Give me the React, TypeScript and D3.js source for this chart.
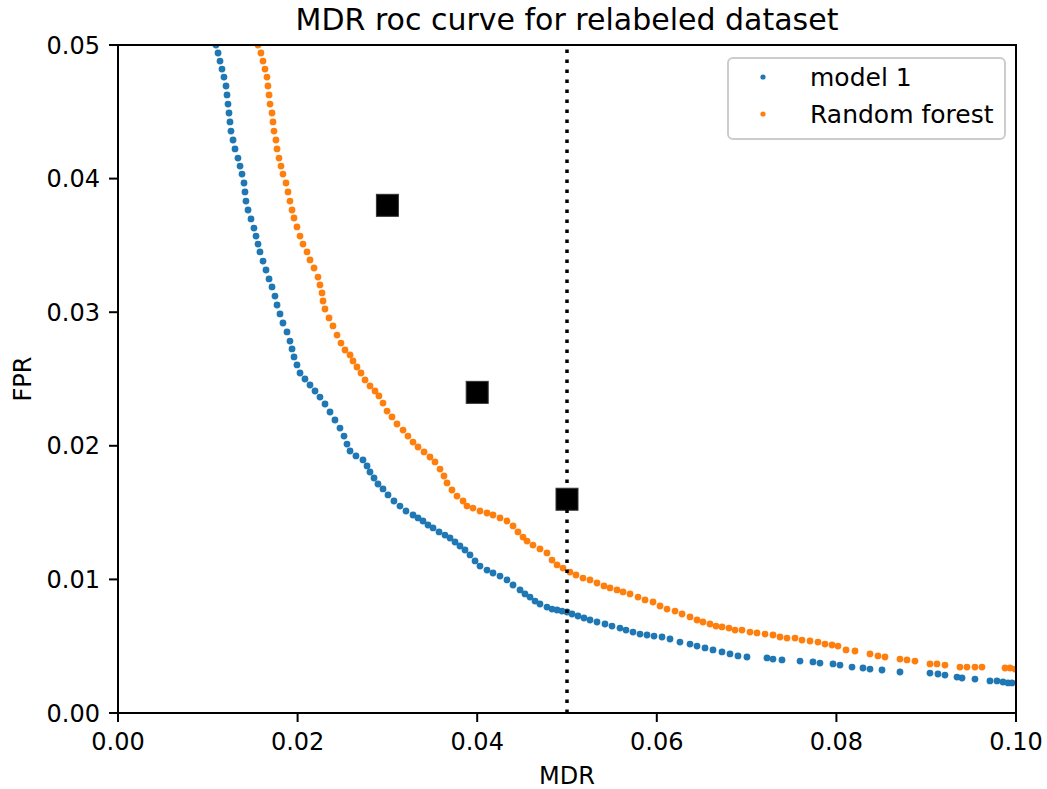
import * as d3 from "d3";
import React from "react";

// MDR / FPR pairs
const model1Points: [number, number][] = [
  [0.01091, 0.05], [0.01114, 0.0494], [0.01136, 0.0488], [0.01158, 0.0482], [0.0118, 0.0476],
  [0.01203, 0.04693], [0.01214, 0.04626], [0.01225, 0.04558], [0.01236, 0.04491], [0.01247, 0.04424],
  [0.01258, 0.04356], [0.01281, 0.04289], [0.01303, 0.04222], [0.01336, 0.04154], [0.01359, 0.04094],
  [0.01381, 0.04034], [0.01403, 0.03967], [0.01414, 0.039], [0.01425, 0.03832], [0.01448, 0.03765],
  [0.01481, 0.03698], [0.01514, 0.0363], [0.01537, 0.0357], [0.01559, 0.0351], [0.01581, 0.03451],
  [0.01615, 0.03383], [0.01648, 0.03316], [0.01682, 0.03249], [0.01715, 0.03189], [0.01748, 0.03121],
  [0.01771, 0.03054], [0.01804, 0.02987], [0.01837, 0.02919], [0.01882, 0.02852], [0.01915, 0.02784],
  [0.01938, 0.02725], [0.0196, 0.02665], [0.01993, 0.02605], [0.02027, 0.02545], [0.02082, 0.025],
  [0.02138, 0.02455], [0.02194, 0.0241], [0.02249, 0.02365], [0.02305, 0.02313], [0.02361, 0.02253],
  [0.02416, 0.02193], [0.02472, 0.02133], [0.02517, 0.02073], [0.0255, 0.02013], [0.02584, 0.01961],
  [0.0265, 0.01924], [0.02728, 0.01894], [0.02773, 0.01849], [0.02806, 0.01804], [0.02851, 0.01759],
  [0.02895, 0.01714], [0.02951, 0.01677], [0.03007, 0.01632], [0.03073, 0.01587], [0.0314, 0.01549],
  [0.03207, 0.01512], [0.03285, 0.01482], [0.03341, 0.0146], [0.03396, 0.01437], [0.03452, 0.01407],
  [0.03508, 0.01385], [0.03575, 0.01355], [0.03641, 0.01332], [0.03697, 0.0131], [0.03753, 0.0128],
  [0.03808, 0.0125], [0.03864, 0.0122], [0.0392, 0.01183], [0.03976, 0.01138], [0.04031, 0.011],
  [0.04109, 0.0107], [0.04176, 0.01048], [0.04254, 0.01025], [0.04332, 0.00996], [0.04399, 0.00958],
  [0.04477, 0.00921], [0.04532, 0.00891], [0.04588, 0.00868], [0.04644, 0.00838], [0.04699, 0.00816],
  [0.04777, 0.00793], [0.04833, 0.00778], [0.04889, 0.00771], [0.04944, 0.00763], [0.05, 0.00756],
  [0.05056, 0.00741], [0.05122, 0.00726], [0.05189, 0.00711], [0.05256, 0.00696], [0.05334, 0.00681],
  [0.05423, 0.00666], [0.05501, 0.00651], [0.0559, 0.00636], [0.05657, 0.00621], [0.05735, 0.00606],
  [0.05813, 0.00591], [0.05891, 0.00584], [0.05969, 0.00576], [0.06058, 0.00569], [0.06147, 0.00554],
  [0.06258, 0.00531], [0.0637, 0.00516], [0.06448, 0.00501], [0.06537, 0.00487], [0.06626, 0.00472],
  [0.06726, 0.00457], [0.06815, 0.00442], [0.06904, 0.00427], [0.07004, 0.00419], [0.07227, 0.00412],
  [0.07294, 0.00404], [0.07394, 0.00397], [0.07595, 0.00389], [0.07739, 0.00382], [0.07817, 0.00374],
  [0.07962, 0.00367], [0.0804, 0.00359], [0.08174, 0.00344], [0.08296, 0.00337], [0.08374, 0.00329],
  [0.08508, 0.00322], [0.08708, 0.00307], [0.09042, 0.00299], [0.09131, 0.00292], [0.09209, 0.00284],
  [0.09343, 0.00269], [0.09399, 0.00262], [0.09543, 0.00254], [0.0971, 0.0024], [0.09788, 0.0024],
  [0.09855, 0.00232], [0.09911, 0.00225], [0.09955, 0.00225],
];

const forestPoints: [number, number][] = [
  [0.01559, 0.05], [0.01592, 0.0494], [0.01615, 0.0488], [0.01637, 0.0482], [0.01659, 0.0476],
  [0.0167, 0.04693], [0.01682, 0.04626], [0.01693, 0.04558], [0.01715, 0.04491], [0.01726, 0.04424],
  [0.01737, 0.04356], [0.01759, 0.04289], [0.01771, 0.04222], [0.01793, 0.04154], [0.01815, 0.04094],
  [0.01837, 0.04034], [0.01871, 0.03967], [0.01893, 0.039], [0.01915, 0.03832], [0.01938, 0.03765],
  [0.0196, 0.03705], [0.01993, 0.03638], [0.02027, 0.0357], [0.0206, 0.0351], [0.02105, 0.03451],
  [0.02138, 0.03391], [0.02183, 0.03331], [0.02227, 0.03263], [0.02249, 0.03204], [0.02272, 0.03144],
  [0.02283, 0.03084], [0.02305, 0.03024], [0.0235, 0.02957], [0.02394, 0.02897], [0.02439, 0.02829],
  [0.02483, 0.02769], [0.02528, 0.02717], [0.02584, 0.0268], [0.02617, 0.02635], [0.02661, 0.0259],
  [0.02706, 0.02545], [0.02751, 0.02493], [0.02806, 0.02448], [0.02862, 0.0241], [0.02906, 0.02373],
  [0.02951, 0.0232], [0.02996, 0.0226], [0.03051, 0.02216], [0.03107, 0.02163], [0.03174, 0.02118],
  [0.03229, 0.02073], [0.03285, 0.02028], [0.03341, 0.01991], [0.03408, 0.01954], [0.03474, 0.01916],
  [0.0353, 0.01879], [0.03586, 0.01826], [0.0363, 0.01774], [0.03664, 0.01722], [0.03719, 0.01669],
  [0.03775, 0.01624], [0.03842, 0.01587], [0.03886, 0.01549], [0.03953, 0.01534], [0.04031, 0.01512],
  [0.04109, 0.01497], [0.04176, 0.01482], [0.04254, 0.0146], [0.04332, 0.01437], [0.04399, 0.014],
  [0.04454, 0.01355], [0.0451, 0.01317], [0.04555, 0.01287], [0.04621, 0.01257], [0.04699, 0.01228],
  [0.04777, 0.01198], [0.04833, 0.01145], [0.04889, 0.01108], [0.04955, 0.01085], [0.05033, 0.01055],
  [0.051, 0.01033], [0.05178, 0.0101], [0.05256, 0.00996], [0.05334, 0.00973], [0.05412, 0.00951],
  [0.05479, 0.00936], [0.05557, 0.00921], [0.05624, 0.00906], [0.05702, 0.00891], [0.05791, 0.00868],
  [0.05869, 0.00846], [0.05958, 0.00831], [0.06036, 0.00801], [0.06114, 0.00778], [0.06203, 0.00763],
  [0.06281, 0.00741], [0.0637, 0.00719], [0.06448, 0.00696], [0.06514, 0.00681], [0.06592, 0.00666],
  [0.06659, 0.00651], [0.06726, 0.00644], [0.06804, 0.00636], [0.06871, 0.00621], [0.06949, 0.00621],
  [0.07038, 0.00606], [0.07116, 0.00599], [0.07205, 0.00591], [0.07294, 0.00584], [0.07372, 0.00569],
  [0.0745, 0.00561], [0.07539, 0.00561], [0.07617, 0.00546], [0.07706, 0.00539], [0.07795, 0.00531],
  [0.07873, 0.00516], [0.07951, 0.00509], [0.08018, 0.00501], [0.08107, 0.00472], [0.08207, 0.00464],
  [0.08374, 0.00442], [0.08463, 0.00427], [0.08541, 0.00419], [0.08708, 0.00404], [0.08786, 0.00397],
  [0.08875, 0.00389], [0.09042, 0.00367], [0.0912, 0.00367], [0.09209, 0.00359], [0.09376, 0.00344],
  [0.09454, 0.00344], [0.09543, 0.00344], [0.09621, 0.00344], [0.09878, 0.00337], [0.09933, 0.00337],
  [0.09989, 0.00329],
];

const targetPoints: [number, number][] = [
  [0.03, 0.038],
  [0.04, 0.024],
  [0.05, 0.016],
];

const mdrLimit = 0.05;
const xTicks = [0, 0.02, 0.04, 0.06, 0.08, 0.1];
const yTicks = [0, 0.01, 0.02, 0.03, 0.04, 0.05];
const seriesNames = ["model 1", "Random forest"];
const seriesColors = ["#1f77b4", "#ff7f0e"];

const W = 1047;
const H = 789;
const margin = { top: 45, right: 31, bottom: 76, left: 118 };
const font = "'DejaVu Sans', sans-serif";

export default function App() {
  const x = d3.scaleLinear().domain([0, 0.1]).range([margin.left, W - margin.right]);
  const y = d3.scaleLinear().domain([0, 0.05]).range([H - margin.bottom, margin.top]);
  const [x0, x1] = x.range();
  const [y0, y1] = y.range();
  const sq = 22;

  const series = [model1Points, forestPoints];

  return (
    <svg width={W} height={H} style={{ position: "absolute", left: 0, top: 0, background: "#fff" }}>
      <defs>
        <clipPath id="plot-clip">
          <rect x={x0} y={y1} width={x1 - x0} height={y0 - y1} />
        </clipPath>
      </defs>

      <g clipPath="url(#plot-clip)">
        {series.map((pts, i) => (
          <g key={i} fill={seriesColors[i]}>
            {pts.map((d, j) => (
              <circle key={j} cx={x(d[0])} cy={y(d[1])} r={3.4} />
            ))}
          </g>
        ))}
        {targetPoints.map((d, i) => (
          <rect key={i} x={x(d[0]) - sq / 2} y={y(d[1]) - sq / 2} width={sq} height={sq}
            fill="#000" stroke="#333" strokeWidth={1} />
        ))}
        <line x1={x(mdrLimit)} x2={x(mdrLimit)} y1={y0} y2={y1}
          stroke="#000" strokeWidth={3.5} strokeDasharray="3.5 6.5" />
      </g>

      {/* axes frame */}
      <rect x={x0} y={y1} width={x1 - x0} height={y0 - y1} fill="none" stroke="#000" strokeWidth={2} />

      {xTicks.map((t) => (
        <g key={t}>
          <line x1={x(t)} x2={x(t)} y1={y0} y2={y0 + 9} stroke="#000" strokeWidth={2} />
          <text x={x(t)} y={y0 + 37} textAnchor="middle" fontFamily={font} fontSize={24}>
            {t.toFixed(2)}
          </text>
        </g>
      ))}
      {yTicks.map((t) => (
        <g key={t}>
          <line x1={x0 - 9} x2={x0} y1={y(t)} y2={y(t)} stroke="#000" strokeWidth={2} />
          <text x={x0 - 18} y={y(t)} dy="0.36em" textAnchor="end" fontFamily={font} fontSize={24}>
            {t.toFixed(2)}
          </text>
        </g>
      ))}

      <text x={(x0 + x1) / 2} y={30} textAnchor="middle" fontFamily={font} fontSize={30}>
        MDR roc curve for relabeled dataset
      </text>
      <text x={(x0 + x1) / 2} y={784} textAnchor="middle" fontFamily={font} fontSize={24}>
        MDR
      </text>
      <text transform={`translate(31,${(y0 + y1) / 2}) rotate(-90)`} textAnchor="middle"
        fontFamily={font} fontSize={24}>
        FPR
      </text>

      {/* legend */}
      <g>
        <rect x={728} y={58} width={277} height={81} rx={5} fill="#fff" fillOpacity={0.8}
          stroke="#cccccc" strokeWidth={2} />
        {seriesNames.map((name, i) => (
          <g key={name}>
            <circle cx={763} cy={77 + i * 37} r={2.6} fill={seriesColors[i]} />
            <text x={810} y={77 + i * 37} dy="0.36em" fontFamily={font} fontSize={25}>
              {name}
            </text>
          </g>
        ))}
      </g>
    </svg>
  );
}
